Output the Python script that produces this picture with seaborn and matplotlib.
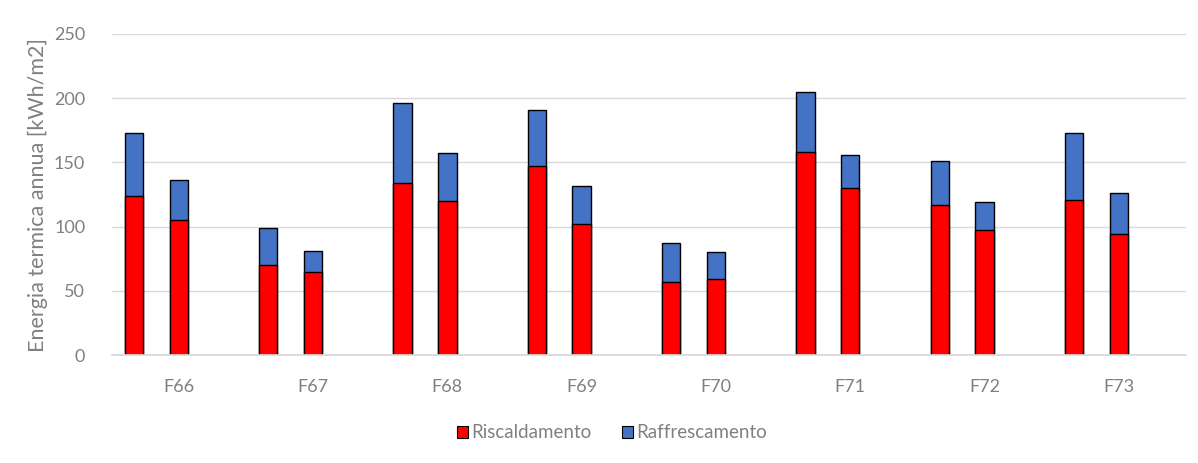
import numpy as np
import pandas as pd
import matplotlib
matplotlib.use("Agg")
import matplotlib.pyplot as plt
import seaborn as sns
from matplotlib.patches import Patch

# Building types and the two variants shown for each
edifici = ["F66", "F67", "F68", "F69", "F70", "F71", "F72", "F73"]
varianti = ["a", "b"]

# Annual thermal energy per variant [kWh/m2]
riscaldamento = [124, 105, 70, 65, 134, 120, 147, 102,
                 57, 59, 158, 130, 117, 97, 121, 94]
raffrescamento = [49, 31, 29, 16, 62, 37, 44, 30,
                  30, 21, 47, 26, 34, 22, 52, 32]

serie = ["Riscaldamento", "Raffrescamento"]
colori = {"Riscaldamento": "#FF0000", "Raffrescamento": "#4472C4"}
y_ticks = [0, 50, 100, 150, 200, 250]

# Three slots per building: two variants plus an empty spacer slot
slot_labels = []
for e in edifici:
    slot_labels += [f"{e}-{v}" for v in varianti] + [f"{e}-gap"]

rows = []
k = 0
for e in edifici:
    for v in varianti:
        rows.append({"slot": f"{e}-{v}",
                     "Riscaldamento": riscaldamento[k],
                     "Totale": riscaldamento[k] + raffrescamento[k]})
        k += 1
df = pd.DataFrame(rows)

sns.set_theme(style="white")
plt.rcParams["font.family"] = ["Lato", "DejaVu Sans"]

fig = plt.figure(figsize=(11.98, 4.63), dpi=100)
ax = fig.add_axes([111.6 / 1198, 1 - 355 / 463, (1186 - 111.6) / 1198, (355 - 34) / 463])

bar_w = 0.41
# stacked columns: total (cooling on top) first, then heating over it
sns.barplot(data=df, x="slot", y="Totale", order=slot_labels, color=colori["Raffrescamento"],
            width=bar_w, edgecolor="black", linewidth=1.0, saturation=1, ax=ax, errorbar=None)
sns.barplot(data=df, x="slot", y="Riscaldamento", order=slot_labels, color=colori["Riscaldamento"],
            width=bar_w, edgecolor="black", linewidth=1.0, saturation=1, ax=ax, errorbar=None)

ax.set_xlim(-0.5, len(slot_labels) - 0.5)
ax.set_ylim(0, 250)
ax.set_yticks(y_ticks)
ax.set_yticklabels([str(t) for t in y_ticks])
ax.yaxis.grid(True, color="#d9d9d9", linewidth=1.0)
ax.set_axisbelow(True)

ax.set_xticks([3 * i + 1 for i in range(len(edifici))])
ax.set_xticklabels(edifici)

for s in ["top", "right", "left"]:
    ax.spines[s].set_visible(False)
ax.spines["bottom"].set_color("#d9d9d9")

ax.tick_params(axis="both", length=0, labelsize=13, labelcolor="#808080")
ax.tick_params(axis="x", pad=17)
ax.tick_params(axis="y", pad=19)
ax.set_xlabel("")
ax.set_ylabel("Energia termica annua [kWh/m2]", fontsize=15.5, color="#808080", labelpad=4)

handles = [Patch(facecolor=colori[s], edgecolor="black", linewidth=0.8, label=s) for s in serie]
fig.legend(handles=handles, loc="center", bbox_to_anchor=(612 / 1198, 1 - 433 / 463),
           ncol=2, frameon=False, fontsize=13.5, handlelength=0.6, handleheight=0.6,
           handletextpad=0.2, columnspacing=1.6, labelcolor="#808080")

fig.savefig("out.png", dpi=100, facecolor="white")
